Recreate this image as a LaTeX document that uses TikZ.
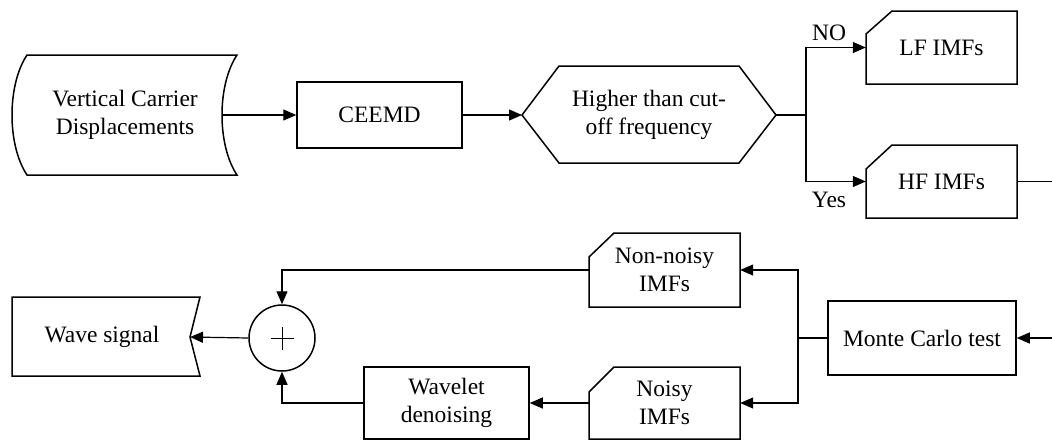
\documentclass[tikz,border=0pt]{standalone}
\usepackage{fontspec}
\setmainfont{Liberation Serif}
\usetikzlibrary{arrows.meta}
\begin{document}
\begin{tikzpicture}[x=1pt,y=-1pt,
  shp/.style={draw=black,line width=1.5pt,line join=miter},
  lbl/.style={inner sep=0pt,align=center,font=\fontsize{23.5}{28}\selectfont},
  rbox/.style={lbl,draw=black,line width=1.5pt},
  line/.style={line width=1.2pt},
  conn/.style={line width=1.2pt,-{Triangle[length=13pt,width=11pt]}}]
\useasboundingbox (0,0) rectangle (1052,440);

% stored data: Vertical Carrier Displacements
\draw[shp] (27,55) -- (237,55) .. controls (217,85) and (217,145) .. (237,175)
  -- (27,175) .. controls (7,145) and (7,85) .. (27,55) -- cycle;
\node[lbl,minimum width=190pt,minimum height=120pt] (vcd) at (125,115) {Vertical Carrier\\Displacements};
\coordinate (vcdR) at (222,115);

% CEEMD
\node[rbox,minimum width=165pt,minimum height=66pt] (ceemd) at (379.5,115) {CEEMD};

% hexagon
\draw[shp] (522,115) -- (559,66) -- (739,66) -- (776,115) -- (739,163) -- (559,163) -- cycle;
\node[lbl] (hex) at (649,115) {Higher than cut-\\off frequency};
\coordinate (hexW) at (522,115);
\coordinate (hexE) at (776,115);

% LF / HF IMFs
\draw[shp] (866,84) -- (866,34) -- (892,11) -- (1017,11) -- (1017,84) -- cycle;
\node[lbl,minimum width=151pt,minimum height=73pt] (lf) at (941.5,47.5) {LF IMFs};
\draw[shp] (866,218) -- (866,169) -- (892,145) -- (1017,145) -- (1017,218) -- cycle;
\node[lbl,minimum width=151pt,minimum height=73pt] (hf) at (941.5,181.5) {HF IMFs};
\coordinate (jt) at (806,115);
\coordinate (hfout) at (1052,181.5);
\node[lbl] (no) at (829,33) {NO};
\node[lbl] (yes) at (829,200) {Yes};

% Monte Carlo
\node[rbox,minimum width=188pt,minimum height=74pt] (mc) at (922,338) {Monte Carlo test};
\coordinate (mcin) at (1052,338);
\coordinate (jb) at (798,338);

% Non-noisy / Noisy IMFs
\draw[shp] (589,307) -- (589,257) -- (614,233) -- (740,233) -- (740,307) -- cycle;
\node[lbl,minimum width=151pt,minimum height=74pt] (nn) at (664.5,270) {Non-noisy\\IMFs};
\draw[shp] (589,439) -- (589,392) -- (614,367) -- (740,367) -- (740,439) -- cycle;
\node[lbl,minimum width=151pt,minimum height=72pt] (noisy) at (664.5,403) {Noisy\\IMFs};

% Wavelet denoising
\node[rbox,minimum width=165pt,minimum height=72pt] (wav) at (446.5,403) {Wavelet\\denoising};

% summation
\node[draw=black,line width=1.5pt,circle,minimum size=66pt,inner sep=0pt] (sum) at (282,338) {};
\draw[line width=1pt] ([xshift=-11.5pt]sum.center) -- ([xshift=11.5pt]sum.center);
\draw[line width=1pt] ([yshift=-11.5pt]sum.center) -- ([yshift=11.5pt]sum.center);

% Wave signal
\draw[shp] (12,297) -- (200,297) -- (190,337) -- (200,376) -- (12,376) -- cycle;
\node[lbl] (ws) at (102,337) {Wave signal};
\coordinate (wsR) at (190,337);

% connectors
\draw[conn] (vcdR) -- (ceemd.west);
\draw[conn] (ceemd.east) -- (hexW);
\draw[line] (hexE) -- (jt);
\draw[conn] (jt) |- (lf.west);
\draw[conn] (jt) |- (hf.west);
\draw[line] (hf.east) -- (hfout);
\draw[conn] (mcin) -- (mc.east);
\draw[line] (mc.west) -- (jb);
\draw[conn] (jb) |- (nn.east);
\draw[conn] (jb) |- (noisy.east);
\draw[conn] (noisy.west) -- (wav.east);
\draw[conn] (wav.west) -| (sum.south);
\draw[conn] (nn.west) -| (sum.north);
\draw[conn] (sum.west) -- (wsR);
\end{tikzpicture}
\end{document}
